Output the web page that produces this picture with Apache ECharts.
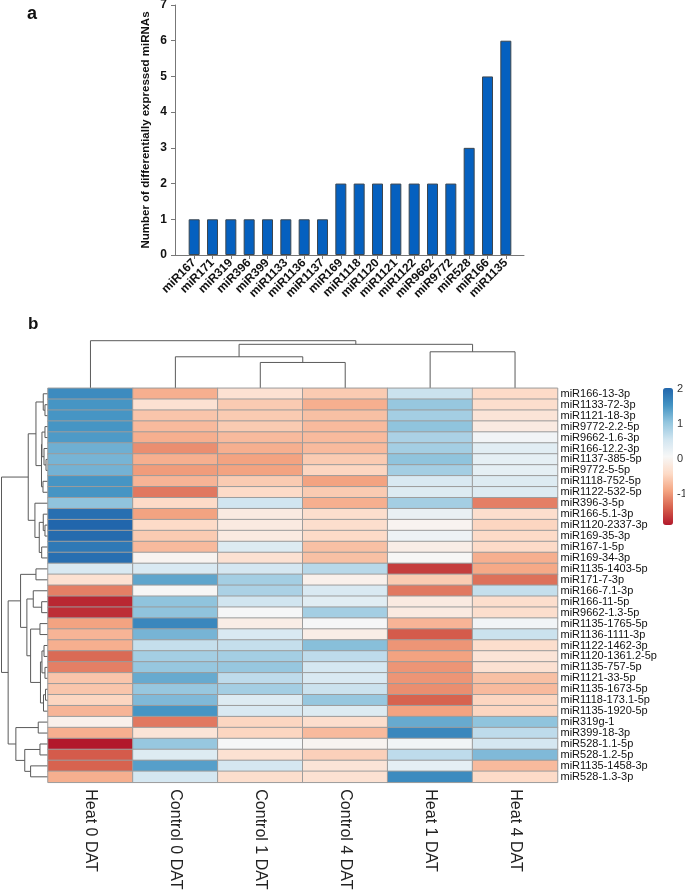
<!DOCTYPE html>
<html><head><meta charset="utf-8">
<script src="https://cdn.jsdelivr.net/npm/echarts@6/dist/echarts.min.js"></script>
<style>html,body{margin:0;padding:0;background:#fff}#c{width:685px;height:890px}</style>
</head><body><div id="c"></div>
<script>
// ---------- Panel a data ----------
const barCategories = ['miR167','miR171','miR319','miR396','miR399','miR1133','miR1136','miR1137','miR169','miR1118','miR1120','miR1121','miR1122','miR9662','miR9772','miR528','miR166','miR1135'];
const barValues = [1,1,1,1,1,1,1,1,2,2,2,2,2,2,2,3,5,6];
const barAxisMax = 7;

// ---------- Panel b data ----------
const heatColumns = ['Heat 0 DAT','Control 0 DAT','Control 1 DAT','Control 4 DAT','Heat 1 DAT','Heat 4 DAT'];
const heatRows = ['miR166-13-3p','miR1133-72-3p','miR1121-18-3p','miR9772-2.2-5p','miR9662-1.6-3p','miR166-12.2-3p','miR1137-385-5p','miR9772-5-5p','miR1118-752-5p','miR1122-532-5p','miR396-3-5p','miR166-5.1-3p','miR1120-2337-3p','miR169-35-3p','miR167-1-5p','miR169-34-3p','miR1135-1403-5p','miR171-7-3p','miR166-7.1-3p','miR166-11-5p','miR9662-1.3-5p','miR1135-1765-5p','miR1136-1111-3p','miR1122-1462-3p','miR1120-1361.2-5p','miR1135-757-5p','miR1121-33-5p','miR1135-1673-5p','miR1118-173.1-5p','miR1135-1920-5p','miR319g-1','miR399-18-3p','miR528-1.1-5p','miR528-1.2-5p','miR1135-1458-3p','miR528-1.3-3p'];
// z-scores per row: Heat0, Control0, Control1, Control4, Heat1, Heat4
const heatValues = [
  [1.6,-0.8,-0.3,-0.55,0.6,-0.4],
  [1.5,-0.3,-0.55,-0.8,1.0,-0.35],
  [1.5,-0.6,-0.55,-0.65,0.9,-0.25],
  [1.5,-0.7,-0.55,-0.7,1.05,-0.15],
  [1.45,-0.8,-0.7,-0.7,0.85,0.15],
  [1.25,-1.05,-0.8,-0.7,0.9,0.35],
  [1.2,-0.8,-0.9,-0.55,1.05,0.3],
  [1.22,-0.95,-0.9,-0.45,0.9,0.3],
  [1.5,-0.75,-0.55,-0.9,0.45,0.4],
  [1.5,-1.2,-0.4,-0.55,0.4,0.4],
  [1.05,-0.4,0.55,-0.8,0.9,-1.15],
  [1.9,-0.9,-0.15,-0.35,0.25,-0.35],
  [2.0,-0.4,-0.15,-0.35,0.0,-0.45],
  [1.95,-0.55,-0.15,-0.4,0.2,-0.4],
  [1.8,-0.7,0.4,-0.65,-0.1,-0.4],
  [1.9,0.0,-0.3,-0.65,0.05,-0.8],
  [0.45,0.45,0.5,0.75,-1.6,-0.85],
  [-0.3,1.35,0.9,-0.05,-0.55,-1.25],
  [-1.15,0.05,0.85,0.45,-1.2,0.65],
  [-1.75,1.05,0.55,0.35,-0.15,-0.35],
  [-1.7,1.05,0.1,0.9,-0.15,-0.35],
  [-0.9,1.65,-0.1,0.1,-0.75,0.15],
  [-0.75,1.2,0.45,-0.1,-1.4,0.6],
  [-0.8,0.65,0.65,1.1,-1.0,-0.35],
  [-1.3,0.9,0.9,0.7,-0.9,-0.25],
  [-1.15,1.0,1.0,0.5,-1.0,-0.3],
  [-0.6,1.3,0.7,0.45,-1.0,-0.65],
  [-0.6,1.0,0.9,0.6,-1.05,-0.7],
  [-0.45,1.15,0.4,1.0,-1.35,-0.45],
  [-0.75,1.5,0.45,0.4,-0.9,-0.45],
  [-0.05,-1.2,-0.45,-0.35,1.3,1.05],
  [-0.8,-0.25,-0.45,-0.7,1.65,0.7],
  [-1.85,1.0,0.1,0.0,0.15,0.5],
  [-1.4,0.4,-0.3,-0.5,0.7,1.15],
  [-1.35,1.4,0.5,-0.25,0.3,-0.7],
  [-0.8,0.5,-0.35,-0.3,1.6,-0.4]
];
const colorMin = -1.85, colorMax = 2;
const colorTicks = [-2, -1, 0, 1, 2];
const palette = ['#B2182B','#D6604D','#F4A582','#FDDBC7','#F7F7F7','#D1E5F0','#92C5DE','#4393C3','#2166AC'];

// Dendrograms: node = [height, left, right]; leaf = index
const colTree = [10, 0, [9.24, [6.62, 1, [5.43, 2, 3]], [7.67, 4, 5]]];
const rowTree = [10,
  [4.25,
    [2.59, [1.02, 0, [0.65, 1, 2]], [1.40, [1.30, [0.65, 3, 4], [0.86, 5, [0.43, 6, 7]]], [1.08, 8, 9]]],
    [2.81, 10, [1.88, [1.02, 11, [0.65, 12, 13]], [1.36, 14, 15]]]],
  [8.57,
    [5.90, [2.59, 16, 17],
      [4.54, [3.17, 18, [1.36, 19, 20]],
             [3.74, [1.73, 21, 22], [1.62, [1.30, [0.86, 23, 24], [0.65, 25, 26]], [0.97, [0.54, 27, 28], 29]]]]],
    [6.91, [2.10, 30, 31], [5.0, [1.73, 32, 33], [3.74, 34, 35]]]]
];

function dendroSegments(tree) {
  const segs = [];
  function walk(n) {
    if (typeof n === 'number') return {p: n + 0.5, h: 0};
    const a = walk(n[1]), b = walk(n[2]);
    segs.push([a.p, a.h, b.p, b.h, n[0]]);
    return {p: (a.p + b.p) / 2, h: n[0]};
  }
  walk(tree);
  return segs;
}

function dendroRender(horizontal) {
  return function (params, api) {
    const p1 = api.value(0), h1 = api.value(1), p2 = api.value(2), h2 = api.value(3), H = api.value(4);
    const pts = [[p1, h1], [p1, H], [p2, H], [p2, h2]].map(d => api.coord(horizontal ? [d[1], d[0]] : d));
    return {type: 'polyline', shape: {points: pts}, style: {stroke: '#5a5a5a', fill: 'none', lineWidth: 1}, silent: true};
  };
}

const heatData = [];
heatValues.forEach((row, r) => row.forEach((v, c) => heatData.push([c, r, v])));

const FONT = "'Liberation Sans', Arial, Helvetica, sans-serif";
const hidden = {show: false};
const chart = echarts.init(document.getElementById('c'), null, {renderer: 'canvas'});
chart.setOption({
  animation: false,
  textStyle: {fontFamily: FONT},
  title: [
    {text: 'a', left: 27, top: 5, padding: 0, textStyle: {fontSize: 18, fontWeight: 'bold', color: '#111', fontFamily: FONT}},
    {text: 'b', left: 28, top: 316, padding: 0, textStyle: {fontSize: 17, fontWeight: 'bold', color: '#111', fontFamily: FONT}}
  ],
  grid: [
    {left: 185, top: 5, width: 330, height: 250, outerBoundsMode: 'none', containLabel: false},
    {left: 175, top: 5, width: 349, height: 250, outerBoundsMode: 'none', containLabel: false},
    {left: 48, top: 340.7, width: 509.5, height: 47.6, outerBoundsMode: 'none', containLabel: false},
    {left: 1.5, top: 388.3, width: 46.5, height: 394, outerBoundsMode: 'none', containLabel: false},
    {left: 48, top: 388.3, width: 509.5, height: 394, outerBoundsMode: 'none', containLabel: false},
    {left: 663, top: 388.5, width: 10, height: 141.2, outerBoundsMode: 'none', containLabel: false}
  ],
  xAxis: [
    {gridIndex: 0, type: 'category', data: barCategories, boundaryGap: true,
     axisLine: {show: false}, axisTick: {show: true, alignWithLabel: true, length: 4, lineStyle: {color: '#777'}},
     axisLabel: {rotate: 45, interval: 0, fontSize: 12, fontWeight: 'bold', color: '#111', margin: 6, fontFamily: FONT,
       hideOverlap: false},
     splitLine: hidden},
    {gridIndex: 1, type: 'value', min: 0, max: 1, axisLine: {show: true, onZero: false, lineStyle: {color: '#777', width: 1}},
     axisTick: hidden, axisLabel: hidden, splitLine: hidden},
    {gridIndex: 2, type: 'value', min: 0, max: heatColumns.length, show: false},
    {gridIndex: 3, type: 'value', min: 0, max: 10, inverse: true, show: false},
    {gridIndex: 4, type: 'category', data: heatColumns, position: 'bottom',
     axisLine: hidden, axisTick: hidden, splitLine: hidden,
     axisLabel: {rotate: -90, interval: 0, fontSize: 16, color: '#222', margin: 7, fontFamily: FONT, hideOverlap: false}},
    {gridIndex: 5, type: 'value', min: 0, max: 1, show: false}
  ],
  yAxis: [
    {gridIndex: 0, type: 'value', min: 0, max: barAxisMax, interval: 1, offset: 10,
     name: 'Number of differentially expressed miRNAs', nameLocation: 'middle', nameGap: 23,
     nameTextStyle: {fontSize: 11.5, fontWeight: 'bold', color: '#111', fontFamily: FONT},
     axisLine: {show: true, lineStyle: {color: '#777'}}, axisTick: {show: true, length: 4, lineStyle: {color: '#777'}},
     axisLabel: {fontSize: 12, fontWeight: 'bold', color: '#111', margin: 8, fontFamily: FONT}, splitLine: hidden},
    {gridIndex: 1, type: 'value', min: 0, max: 1, show: false},
    {gridIndex: 2, type: 'value', min: 0, max: 10, show: false},
    {gridIndex: 3, type: 'value', min: 0, max: heatRows.length, inverse: true, show: false},
    {gridIndex: 4, type: 'category', data: heatRows, inverse: true, position: 'right',
     axisLine: hidden, axisTick: hidden, splitLine: hidden,
     axisLabel: {interval: 0, fontSize: 11, color: '#111', margin: 3, fontFamily: FONT}},
    {gridIndex: 5, type: 'value', min: colorTicks[0], max: colorTicks[colorTicks.length - 1], interval: 1, position: 'right',
     axisLine: hidden, axisTick: hidden, splitLine: hidden,
     axisLabel: {fontSize: 11, color: '#333', margin: 4, fontFamily: FONT,
       formatter: v => (v === colorTicks[0] ? '' : String(v))}}
  ],
  visualMap: {
    type: 'continuous', min: colorMin, max: colorMax, seriesIndex: 3, calculable: false,
    inRange: {color: palette}, orient: 'vertical', left: 663, top: 388, padding: 0,
    itemWidth: 10, itemHeight: 137, text: null, hoverLink: false
  },
  series: [
    {type: 'bar', xAxisIndex: 0, yAxisIndex: 0, data: barValues, barWidth: 11,
     itemStyle: {color: '#0560BF', borderColor: '#3b4650', borderWidth: 1}, silent: true},
    {type: 'custom', xAxisIndex: 2, yAxisIndex: 2, data: dendroSegments(colTree), renderItem: dendroRender(false), silent: true, clip: false},
    {type: 'custom', xAxisIndex: 3, yAxisIndex: 3, data: dendroSegments(rowTree), renderItem: dendroRender(true), silent: true, clip: false},
    {type: 'heatmap', xAxisIndex: 4, yAxisIndex: 4, data: heatData,
     itemStyle: {borderColor: '#9c9c9c', borderWidth: 1}, emphasis: {disabled: true}, silent: true}
  ]
});
</script></body></html>
